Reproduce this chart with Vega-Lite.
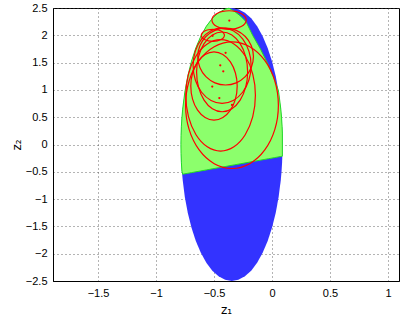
{
  "$schema": "https://vega.github.io/schema/vega-lite/v6.json",
  "width": 346,
  "height": 273,
  "autosize": {"type": "none"},
  "padding": {"left": 53, "top": 8, "right": 2, "bottom": 42},
  "config": {
    "view": {"stroke": "black", "strokeWidth": 1},
    "axis": {
      "labelFont": "Liberation Sans",
      "labelFontSize": 11,
      "labelColor": "black",
      "labelOverlap": false,
      "titleFont": "DejaVu Sans",
      "titleFontSize": 12,
      "titleFontWeight": "normal",
      "titleColor": "black",
      "domainColor": "black",
      "tickSize": 0,
      "labelPadding": 6,
      "grid": true,
      "gridColor": "#444444",
      "gridDash": [1, 3],
      "gridOpacity": 0.8
    }
  },
  "datasets": {
    "blue": [
      {"x": -0.785, "y": 0, "y2": 0},
      {"x": -0.7841, "y": 0.1635, "y2": -0.1635},
      {"x": -0.7813, "y": 0.326, "y2": -0.326},
      {"x": -0.7766, "y": 0.488, "y2": -0.488},
      {"x": -0.7701, "y": 0.647, "y2": -0.647},
      {"x": -0.7517, "y": 0.957, "y2": -0.957},
      {"x": -0.7263, "y": 1.25, "y2": -1.25},
      {"x": -0.6945, "y": 1.522, "y2": -1.522},
      {"x": -0.6567, "y": 1.768, "y2": -1.768},
      {"x": -0.6136, "y": 1.983, "y2": -1.983},
      {"x": -0.566, "y": 2.165, "y2": -2.165},
      {"x": -0.5146, "y": 2.31, "y2": -2.31},
      {"x": -0.4604, "y": 2.415, "y2": -2.415},
      {"x": -0.4042, "y": 2.479, "y2": -2.479},
      {"x": -0.347, "y": 2.5, "y2": -2.5},
      {"x": -0.2898, "y": 2.479, "y2": -2.479},
      {"x": -0.2336, "y": 2.415, "y2": -2.415},
      {"x": -0.1794, "y": 2.31, "y2": -2.31},
      {"x": -0.128, "y": 2.165, "y2": -2.165},
      {"x": -0.0804, "y": 1.983, "y2": -1.983},
      {"x": -0.0373, "y": 1.768, "y2": -1.768},
      {"x": 0.0005, "y": 1.522, "y2": -1.522},
      {"x": 0.0323, "y": 1.25, "y2": -1.25},
      {"x": 0.0577, "y": 0.957, "y2": -0.957},
      {"x": 0.0761, "y": 0.647, "y2": -0.647},
      {"x": 0.0826, "y": 0.488, "y2": -0.488},
      {"x": 0.0873, "y": 0.326, "y2": -0.326},
      {"x": 0.0901, "y": 0.1635, "y2": -0.1635},
      {"x": 0.091, "y": 0, "y2": 0}
    ],
    "green": [
      {"x": -0.785, "y": 0, "y2": 0},
      {"x": -0.7841, "y": 0.1635, "y2": -0.1635},
      {"x": -0.7813, "y": 0.326, "y2": -0.326},
      {"x": -0.7766, "y": 0.488, "y2": -0.488},
      {"x": -0.7701, "y": 0.647, "y2": -0.544},
      {"x": -0.7517, "y": 0.957, "y2": -0.537},
      {"x": -0.7263, "y": 1.25, "y2": -0.5275},
      {"x": -0.6945, "y": 1.522, "y2": -0.5152},
      {"x": -0.6567, "y": 1.768, "y2": -0.5007},
      {"x": -0.6136, "y": 1.983, "y2": -0.4842},
      {"x": -0.566, "y": 2.165, "y2": -0.4659},
      {"x": -0.5146, "y": 2.31, "y2": -0.4462},
      {"x": -0.4604, "y": 2.415, "y2": -0.4254},
      {"x": -0.4042, "y": 2.479, "y2": -0.4038},
      {"x": -0.37, "y": 2.496, "y2": -0.3906},
      {"x": -0.325, "y": 2.44, "y2": -0.3733},
      {"x": -0.27, "y": 2.35, "y2": -0.3522},
      {"x": -0.224, "y": 2.25, "y2": -0.3346},
      {"x": -0.167, "y": 2.0, "y2": -0.3127},
      {"x": -0.1, "y": 1.75, "y2": -0.287},
      {"x": -0.03, "y": 1.45, "y2": -0.2601},
      {"x": 0.02, "y": 1.2, "y2": -0.2409},
      {"x": 0.05, "y": 1.02, "y2": -0.2294},
      {"x": 0.0577, "y": 0.957, "y2": -0.2264},
      {"x": 0.0761, "y": 0.647, "y2": -0.2193},
      {"x": 0.0826, "y": 0.488, "y2": -0.2168},
      {"x": 0.0873, "y": 0.326, "y2": -0.215},
      {"x": 0.0894, "y": 0.21, "y2": -0.2142}
    ],
    "red": [
      {"id": 1, "i": 0, "x": -0.222, "y": 2.28},
      {"id": 1, "i": 1, "x": -0.2333, "y": 2.345},
      {"id": 1, "i": 2, "x": -0.2654, "y": 2.4002},
      {"id": 1, "i": 3, "x": -0.3134, "y": 2.4371},
      {"id": 1, "i": 4, "x": -0.37, "y": 2.45},
      {"id": 1, "i": 5, "x": -0.4266, "y": 2.4371},
      {"id": 1, "i": 6, "x": -0.4747, "y": 2.4002},
      {"id": 1, "i": 7, "x": -0.5067, "y": 2.345},
      {"id": 1, "i": 8, "x": -0.518, "y": 2.28},
      {"id": 1, "i": 9, "x": -0.5067, "y": 2.215},
      {"id": 1, "i": 10, "x": -0.4747, "y": 2.1598},
      {"id": 1, "i": 11, "x": -0.4266, "y": 2.1229},
      {"id": 1, "i": 12, "x": -0.37, "y": 2.11},
      {"id": 1, "i": 13, "x": -0.3134, "y": 2.1229},
      {"id": 1, "i": 14, "x": -0.2654, "y": 2.1598},
      {"id": 1, "i": 15, "x": -0.2333, "y": 2.215},
      {"id": 2, "i": 0, "x": -0.41, "y": 2.0},
      {"id": 2, "i": 1, "x": -0.4176, "y": 2.0421},
      {"id": 2, "i": 2, "x": -0.4393, "y": 2.0778},
      {"id": 2, "i": 3, "x": -0.4717, "y": 2.1016},
      {"id": 2, "i": 4, "x": -0.51, "y": 2.11},
      {"id": 2, "i": 5, "x": -0.5483, "y": 2.1016},
      {"id": 2, "i": 6, "x": -0.5807, "y": 2.0778},
      {"id": 2, "i": 7, "x": -0.6024, "y": 2.0421},
      {"id": 2, "i": 8, "x": -0.61, "y": 2.0},
      {"id": 2, "i": 9, "x": -0.6024, "y": 1.9579},
      {"id": 2, "i": 10, "x": -0.5807, "y": 1.9222},
      {"id": 2, "i": 11, "x": -0.5483, "y": 1.8984},
      {"id": 2, "i": 12, "x": -0.51, "y": 1.89},
      {"id": 2, "i": 13, "x": -0.4717, "y": 1.8984},
      {"id": 2, "i": 14, "x": -0.4393, "y": 1.9222},
      {"id": 2, "i": 15, "x": -0.4176, "y": 1.9579},
      {"id": 3, "i": 0, "x": -0.16, "y": 1.61},
      {"id": 3, "i": 1, "x": -0.1783, "y": 1.809},
      {"id": 3, "i": 2, "x": -0.2303, "y": 1.9777},
      {"id": 3, "i": 3, "x": -0.3082, "y": 2.0904},
      {"id": 3, "i": 4, "x": -0.4, "y": 2.13},
      {"id": 3, "i": 5, "x": -0.4918, "y": 2.0904},
      {"id": 3, "i": 6, "x": -0.5697, "y": 1.9777},
      {"id": 3, "i": 7, "x": -0.6217, "y": 1.809},
      {"id": 3, "i": 8, "x": -0.64, "y": 1.61},
      {"id": 3, "i": 9, "x": -0.6217, "y": 1.411},
      {"id": 3, "i": 10, "x": -0.5697, "y": 1.2423},
      {"id": 3, "i": 11, "x": -0.4918, "y": 1.1296},
      {"id": 3, "i": 12, "x": -0.4, "y": 1.09},
      {"id": 3, "i": 13, "x": -0.3082, "y": 1.1296},
      {"id": 3, "i": 14, "x": -0.2303, "y": 1.2423},
      {"id": 3, "i": 15, "x": -0.1783, "y": 1.411},
      {"id": 4, "i": 0, "x": -0.18, "y": 1.445},
      {"id": 4, "i": 1, "x": -0.199, "y": 1.709},
      {"id": 4, "i": 2, "x": -0.2532, "y": 1.9329},
      {"id": 4, "i": 3, "x": -0.3343, "y": 2.0825},
      {"id": 4, "i": 4, "x": -0.43, "y": 2.135},
      {"id": 4, "i": 5, "x": -0.5257, "y": 2.0825},
      {"id": 4, "i": 6, "x": -0.6068, "y": 1.9329},
      {"id": 4, "i": 7, "x": -0.661, "y": 1.709},
      {"id": 4, "i": 8, "x": -0.68, "y": 1.445},
      {"id": 4, "i": 9, "x": -0.661, "y": 1.181},
      {"id": 4, "i": 10, "x": -0.6068, "y": 0.9571},
      {"id": 4, "i": 11, "x": -0.5257, "y": 0.8075},
      {"id": 4, "i": 12, "x": -0.43, "y": 0.755},
      {"id": 4, "i": 13, "x": -0.3343, "y": 0.8075},
      {"id": 4, "i": 14, "x": -0.2532, "y": 0.9571},
      {"id": 4, "i": 15, "x": -0.199, "y": 1.181},
      {"id": 5, "i": 0, "x": -0.21, "y": 1.33},
      {"id": 5, "i": 1, "x": -0.2268, "y": 1.6094},
      {"id": 5, "i": 2, "x": -0.2744, "y": 1.8462},
      {"id": 5, "i": 3, "x": -0.3458, "y": 2.0044},
      {"id": 5, "i": 4, "x": -0.43, "y": 2.06},
      {"id": 5, "i": 5, "x": -0.5142, "y": 2.0044},
      {"id": 5, "i": 6, "x": -0.5856, "y": 1.8462},
      {"id": 5, "i": 7, "x": -0.6333, "y": 1.6094},
      {"id": 5, "i": 8, "x": -0.65, "y": 1.33},
      {"id": 5, "i": 9, "x": -0.6333, "y": 1.0506},
      {"id": 5, "i": 10, "x": -0.5856, "y": 0.8138},
      {"id": 5, "i": 11, "x": -0.5142, "y": 0.6556},
      {"id": 5, "i": 12, "x": -0.43, "y": 0.6},
      {"id": 5, "i": 13, "x": -0.3458, "y": 0.6556},
      {"id": 5, "i": 14, "x": -0.2744, "y": 0.8138},
      {"id": 5, "i": 15, "x": -0.2268, "y": 1.0506},
      {"id": 6, "i": 0, "x": -0.3, "y": 1.07},
      {"id": 6, "i": 1, "x": -0.3152, "y": 1.3092},
      {"id": 6, "i": 2, "x": -0.3586, "y": 1.5119},
      {"id": 6, "i": 3, "x": -0.4235, "y": 1.6474},
      {"id": 6, "i": 4, "x": -0.5, "y": 1.695},
      {"id": 6, "i": 5, "x": -0.5765, "y": 1.6474},
      {"id": 6, "i": 6, "x": -0.6414, "y": 1.5119},
      {"id": 6, "i": 7, "x": -0.6848, "y": 1.3092},
      {"id": 6, "i": 8, "x": -0.7, "y": 1.07},
      {"id": 6, "i": 9, "x": -0.6848, "y": 0.8308},
      {"id": 6, "i": 10, "x": -0.6414, "y": 0.6281},
      {"id": 6, "i": 11, "x": -0.5765, "y": 0.4926},
      {"id": 6, "i": 12, "x": -0.5, "y": 0.445},
      {"id": 6, "i": 13, "x": -0.4235, "y": 0.4926},
      {"id": 6, "i": 14, "x": -0.3586, "y": 0.6281},
      {"id": 6, "i": 15, "x": -0.3152, "y": 0.8308},
      {"id": 7, "i": 0, "x": -0.143, "y": 0.9},
      {"id": 7, "i": 1, "x": -0.1658, "y": 1.2903},
      {"id": 7, "i": 2, "x": -0.2309, "y": 1.6213},
      {"id": 7, "i": 3, "x": -0.3282, "y": 1.8424},
      {"id": 7, "i": 4, "x": -0.443, "y": 1.92},
      {"id": 7, "i": 5, "x": -0.5578, "y": 1.8424},
      {"id": 7, "i": 6, "x": -0.6551, "y": 1.6213},
      {"id": 7, "i": 7, "x": -0.7202, "y": 1.2903},
      {"id": 7, "i": 8, "x": -0.743, "y": 0.9},
      {"id": 7, "i": 9, "x": -0.7202, "y": 0.5097},
      {"id": 7, "i": 10, "x": -0.6551, "y": 0.1788},
      {"id": 7, "i": 11, "x": -0.5578, "y": -0.0424},
      {"id": 7, "i": 12, "x": -0.443, "y": -0.12},
      {"id": 7, "i": 13, "x": -0.3282, "y": -0.0424},
      {"id": 7, "i": 14, "x": -0.2309, "y": 0.1788},
      {"id": 7, "i": 15, "x": -0.1658, "y": 0.5097},
      {"id": 8, "i": 0, "x": 0.055, "y": 0.72},
      {"id": 8, "i": 1, "x": 0.0246, "y": 1.1639},
      {"id": 8, "i": 2, "x": -0.0622, "y": 1.5402},
      {"id": 8, "i": 3, "x": -0.1919, "y": 1.7917},
      {"id": 8, "i": 4, "x": -0.345, "y": 1.88},
      {"id": 8, "i": 5, "x": -0.4981, "y": 1.7917},
      {"id": 8, "i": 6, "x": -0.6278, "y": 1.5402},
      {"id": 8, "i": 7, "x": -0.7146, "y": 1.1639},
      {"id": 8, "i": 8, "x": -0.745, "y": 0.72},
      {"id": 8, "i": 9, "x": -0.7146, "y": 0.2761},
      {"id": 8, "i": 10, "x": -0.6278, "y": -0.1002},
      {"id": 8, "i": 11, "x": -0.4981, "y": -0.3517},
      {"id": 8, "i": 12, "x": -0.345, "y": -0.44},
      {"id": 8, "i": 13, "x": -0.1919, "y": -0.3517},
      {"id": 8, "i": 14, "x": -0.0622, "y": -0.1002},
      {"id": 8, "i": 15, "x": 0.0246, "y": 0.2761}
    ],
    "dots": [
      {"x": -0.368, "y": 2.27},
      {"x": -0.512, "y": 1.99},
      {"x": -0.4, "y": 1.68},
      {"x": -0.446, "y": 1.45},
      {"x": -0.42, "y": 1.34},
      {"x": -0.515, "y": 1.06},
      {"x": -0.454, "y": 0.85},
      {"x": -0.345, "y": 0.725}
    ]
  },
  "layer": [
    {
      "data": {"name": "blue"},
      "mark": {"type": "area", "color": "#3333ff", "opacity": 1},
      "encoding": {
        "x": {
          "field": "x", "type": "quantitative",
          "scale": {"domain": [-1.888, 1.095], "nice": false, "zero": false},
          "axis": {"values": [-1.5, -1, -0.5, 0, 0.5, 1], "tickCount": 20, "format": ".1~f", "labelOverlap": false, "title": "z₁", "titlePadding": 6}
        },
        "y": {
          "field": "y", "type": "quantitative",
          "scale": {"domain": [-2.5, 2.5], "nice": false, "zero": false},
          "axis": {"values": [-2.5, -2, -1.5, -1, -0.5, 0, 0.5, 1, 1.5, 2, 2.5], "tickCount": 20, "format": ".1~f", "labelOverlap": false, "title": "z₂", "titlePadding": 2}
        },
        "y2": {"field": "y2"}
      }
    },
    {
      "data": {"name": "green"},
      "mark": {"type": "area", "color": "#8cff6c", "opacity": 1, "stroke": "#22dd22", "strokeWidth": 1},
      "encoding": {
        "x": {"field": "x", "type": "quantitative", "scale": {"domain": [-1.888, 1.095], "nice": false, "zero": false}},
        "y": {"field": "y", "type": "quantitative", "scale": {"domain": [-2.5, 2.5], "nice": false, "zero": false}},
        "y2": {"field": "y2"}
      }
    },
    {
      "data": {"name": "red"},
      "mark": {"type": "line", "color": "#ff0000", "strokeWidth": 1.2, "interpolate": "cardinal-closed"},
      "encoding": {
        "x": {"field": "x", "type": "quantitative", "scale": {"domain": [-1.888, 1.095], "nice": false, "zero": false}},
        "y": {"field": "y", "type": "quantitative", "scale": {"domain": [-2.5, 2.5], "nice": false, "zero": false}},
        "detail": {"field": "id", "type": "nominal"},
        "order": {"field": "i", "type": "quantitative"}
      }
    },
    {
      "data": {"name": "dots"},
      "mark": {"type": "point", "filled": true, "color": "#ff0000", "size": 5, "opacity": 1},
      "encoding": {
        "x": {"field": "x", "type": "quantitative", "scale": {"domain": [-1.888, 1.095], "nice": false, "zero": false}},
        "y": {"field": "y", "type": "quantitative", "scale": {"domain": [-2.5, 2.5], "nice": false, "zero": false}}
      }
    }
  ]
}
